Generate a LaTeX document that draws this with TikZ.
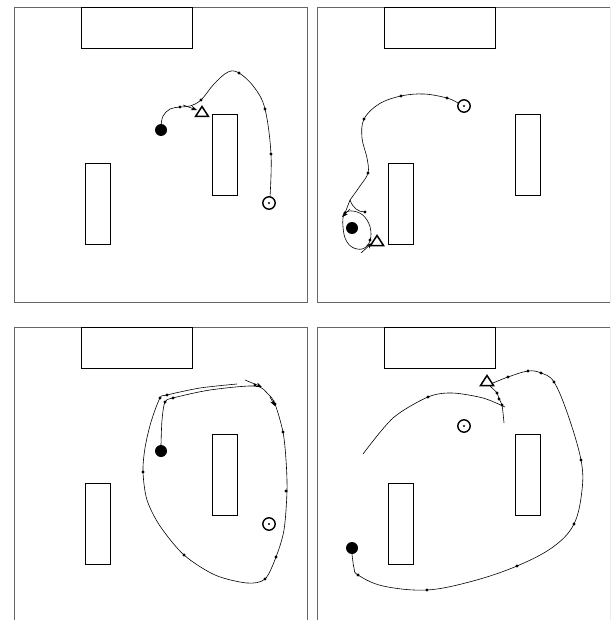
\documentclass[tikz,border=0pt]{standalone}
\usetikzlibrary{arrows.meta}
\newcommand\drawroom{%
  \draw[roomline] (14,7) rectangle (307,302);
  \draw[obst] (81,7) rectangle (192,48);
  \draw[obst] (212,114) rectangle (237,195);
  \draw[obst] (85,163) rectangle (110,244);}
\newcommand\wpt[1]{\fill #1 circle (1.6pt);}
\newcommand\robot[1]{\fill #1 circle (6pt);}
\newcommand\goalmark[1]{\draw[line width=1.4pt] #1 circle (6.2pt); \fill #1 circle (1.1pt);}
\newcommand\tgt[1]{\draw[line width=1.5pt,line join=miter,shift={#1}] (-6.5,4.5) -- (6.5,4.5) -- (0,-5.5) -- cycle;}
\begin{document}
\begin{tikzpicture}[x=1pt,y=-1pt,
  roomline/.style={draw=black!60,line width=0.9pt},
  obst/.style={draw=black,line width=0.7pt},
  traj/.style={line width=0.6pt},
  tip/.style={-{Stealth[length=6pt,width=4.5pt]}}]
\useasboundingbox (0,0) rectangle (610,620);
\clip (0,0) rectangle (610,620);

% ---------- panel 1 ----------
\begin{scope}
\drawroom
\draw[traj] plot[smooth,tension=0.6] coordinates {(161,126) (163,116) (170,109) (180,107) (190,106) (201,100) (214,84) (228,72) (239,73) (254,87) (265,109) (271,154) (270,197)};
\draw[traj,tip] (183,105) -- (197,110);
\foreach \p in {(180,107),(201,100),(239,73),(265,109),(271,154)} {\wpt{\p}}
\robot{(161,130)}
\goalmark{(269,203)}
\tgt{(202,112)}
\end{scope}

% ---------- panel 2 ----------
\begin{scope}[shift={(303,0)}]
\drawroom
\draw[traj] plot[smooth,tension=0.6] coordinates {(155,103) (144,98) (121,94) (98,96) (76,104) (61,119) (59,138) (64,158) (65,173) (57,186) (47,200)};
\draw[traj] (47,200) -- (42,213);
\draw[traj] (47,200) .. controls (50,208) and (55,212) .. (62,212);
\draw[traj] plot[smooth cycle,tension=0.7] coordinates {(42,213) (54,212) (64,220) (68,234) (64,246) (54,249) (44,242) (40,227)};
\draw[traj,tip] (47,209) -- (39,217);
\draw[traj,tip] (58,253) -- (69,243);
\foreach \p in {(144,98),(98,96),(61,119),(65,173),(42,213),(62,212),(67,240)} {\wpt{\p}}
\robot{(49,228)}
\goalmark{(161,106)}
\tgt{(74,241)}
\end{scope}

% ---------- panel 3 ----------
\begin{scope}[shift={(0,320)}]
\drawroom
\draw[traj] plot[smooth,tension=0.5] coordinates {(161,125) (162,100) (165,82) (173,78) (210,70) (255,66) (268,74) (275,84) (283,112) (286,140) (287,171) (284,210) (276,237) (265,259) (247,263) (215,255) (184,235) (160,206) (147,180) (143,152) (145,128) (151,102) (160,78) (167,75) (200,68) (237,64)};
\draw[traj,tip] (245,60) -- (262,67);
\draw[traj,tip] (270,77) -- (275,86);
\foreach \p in {(160,78),(167,75),(173,78),(165,82),(143,152),(184,235),(265,259),(276,237),(286,171),(283,112),(275,84),(255,65)} {\wpt{\p}}
\robot{(161,131)}
\goalmark{(269,204)}
\end{scope}

% ---------- panel 4 ----------
\begin{scope}[shift={(303,320)}]
\drawroom
\draw[traj] plot[smooth,tension=0.6] coordinates {(49,234) (51,248) (55,255) (80,266) (124,270) (170,261) (214,246) (250,227) (271,204) (279,170) (278,140) (265,95) (251,62) (238,53) (225,51) (205,57) (190,63)};
\draw[traj] plot[smooth] coordinates {(187,66) (194,73) (196,79) (199,85) (201,103)};
\draw[traj] plot[smooth] coordinates {(60,134) (90,98) (125,77) (149,73) (180,78) (202,87)};
\foreach \p in {(55,255),(124,270),(214,246),(271,204),(278,140),(251,62),(238,53),(225,51),(205,57),(194,73),(196,79),(199,85),(125,77)} {\wpt{\p}}
\robot{(49,228)}
\goalmark{(161,106)}
\tgt{(184,61)}
\end{scope}
\end{tikzpicture}
\end{document}
